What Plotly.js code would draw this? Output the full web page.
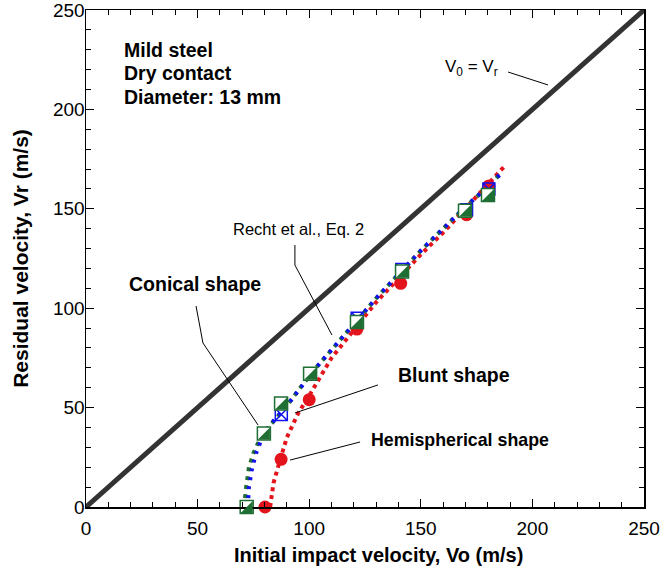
<!DOCTYPE html>
<html>
<head>
<meta charset="utf-8">
<script src="https://cdn.plot.ly/plotly-3.0.1.min.js"></script>
<style>html,body{margin:0;padding:0;background:#fff;}#chart{width:660px;height:577px;}</style>
</head>
<body>
<div id="chart"></div>
<script>
// Reference line V0 = Vr
const refX = [0, 250];
const refY = [0, 250];

// Recht et al. Eq. 2 model curves
const conicalCurveX = [71, 71.5, 73, 75, 77, 80, 84, 90, 96, 103, 110, 120, 130, 140, 150, 160, 170, 180, 186];
const conicalCurveY = [0, 8, 20, 27, 32, 38, 43, 51, 60, 70, 79, 92, 105, 117, 129, 140, 151, 161, 168];
const bluntCurveX = [72.5, 73, 74.5, 76.5, 79, 83, 90, 96, 103, 110, 120, 130, 140, 150, 160, 170, 180, 187];
const bluntCurveY = [0, 10, 20, 28, 35, 42, 51, 60, 70, 79, 92, 105, 117, 129, 140, 151, 161, 169];
const hemiCurveX = [82.5, 83, 84, 86, 88, 90, 95, 100, 110, 120, 130, 140, 150, 160, 170, 180, 188];
const hemiCurveY = [0, 5, 12, 20, 27, 35, 47, 56, 75, 89, 103, 115, 127, 138, 150, 162, 172];

// Measured points
const conicalX = [72, 79.7, 87.4, 100.4, 121.4, 141.6, 169.8, 180.1];
const conicalY = [0, 37, 52, 67, 93, 118.5, 149, 157];
const bluntX = [87.5, 121.5, 141.5, 170.5, 180.5];
const bluntY = [46.5, 95, 119.5, 149.5, 160];
const hemiX = [80.2, 87.4, 100, 121.4, 141, 170.5, 180.5];
const hemiY = [0, 24, 54, 89.5, 112.5, 147, 161.5];

// Ticks
const tickVals = [0, 50, 100, 150, 200, 250];
const tickText = ['0', '50', '100', '150', '200', '250'];

const X_RANGE = [0, 250];
const Y_RANGE = [0, 250];

const GREEN = '#1f6e33';
const BLUE = '#1010f0';
const RED = '#e3141c';
const FONT = 'Liberation Sans, Arial, sans-serif';

const traces = [
  {x: refX, y: refY, mode: 'lines', line: {color: '#333333', width: 5}, hoverinfo: 'skip'},
  {x: hemiCurveX, y: hemiCurveY, mode: 'lines', line: {color: RED, width: 4, dash: '4px,4px'}},
  {x: conicalCurveX, y: conicalCurveY, mode: 'lines', line: {color: GREEN, width: 4, dash: '4px,5px'}},
  {x: bluntCurveX, y: bluntCurveY, mode: 'lines', line: {color: BLUE, width: 4, dash: '3px,6px'}},
  {x: hemiX, y: hemiY, mode: 'markers', cliponaxis: false,
   marker: {symbol: 'circle', size: 13, color: RED, line: {width: 0}}},
  {x: bluntX, y: bluntY, mode: 'markers', cliponaxis: false,
   marker: {symbol: 'square-x-open', size: 12, color: BLUE, line: {width: 1.5, color: BLUE}}},
  {x: conicalX, y: conicalY, mode: 'markers', cliponaxis: false,
   marker: {symbol: 'square', size: 13, color: 'white', line: {width: 1.5, color: GREEN}}}
];

// Half-filled squares: lower-right triangle in pixel units, anchored (in paper units,
// converted through the axis ranges) on each conical point so they are not clipped
const shapes = conicalX.map((x, i) => ({
  type: 'path', xref: 'paper', yref: 'paper', xsizemode: 'pixel', ysizemode: 'pixel',
  xanchor: (x - X_RANGE[0]) / (X_RANGE[1] - X_RANGE[0]),
  yanchor: (conicalY[i] - Y_RANGE[0]) / (Y_RANGE[1] - Y_RANGE[0]),
  path: 'M-6,-6 L6,-6 L6,6 Z', fillcolor: GREEN, line: {width: 0}, layer: 'above'
}));

// Leader lines (in data units)
function leader(pts) {
  return {type: 'path', xref: 'x', yref: 'y', layer: 'above',
    path: 'M' + pts.map(p => p[0] + ',' + p[1]).join(' L'),
    line: {color: 'black', width: 1}};
}
shapes.push(leader([[189.1, 218.8], [207, 212.3]]));
shapes.push(leader([[93.6, 131.8], [93.6, 121.7], [110.2, 86.5]]));
shapes.push(leader([[49.3, 101.1], [52.4, 82.5], [77.1, 41.2]]));
shapes.push(leader([[130.8, 61.4], [93.6, 47.3]]));
shapes.push(leader([[122.8, 32.7], [91.4, 23.6]]));

function note(text, x, y, size, bold) {
  return {text: bold ? '<b>' + text + '</b>' : text, x: x, y: y, xref: 'x', yref: 'y',
    xanchor: 'left', yanchor: 'middle', showarrow: false,
    font: {family: FONT, size: size, color: 'black'}};
}

const annotations = [
  note('Mild steel', 16.2, 230.0, 19.5, true),
  note('Dry contact', 16.2, 218.4, 19.5, true),
  note('Diameter: 13 mm', 16.2, 206.0, 19.5, true),
  note('V<sub>0</sub> = V<sub>r</sub>', 160.0, 220.8, 17, false),
  note('Recht et al., Eq. 2', 64.8, 139.8, 16.5, false),
  note('Conical shape', 18.2, 112.2, 19.5, true),
  note('Blunt shape', 139.0, 66.4, 19.5, true),
  note('Hemispherical shape', 126.8, 33.6, 17.8, true),
  // x-axis title (slightly right of centre, as in the reference)
  {text: '<b>Initial impact velocity, Vo (m/s)</b>', xref: 'paper', yref: 'paper',
   x: 0.525, y: -0.097, xanchor: 'center', yanchor: 'middle', showarrow: false,
   font: {family: FONT, size: 20, color: 'black'}}
];

const axisCommon = {
  range: [0, 250], showgrid: false, zeroline: false, showline: true, linecolor: 'black', linewidth: 1.5,
  mirror: 'allticks', ticks: 'inside', ticklen: 8, tickwidth: 1.2, tickcolor: 'black',
  tickvals: tickVals, ticktext: tickText, ticklabeloverflow: 'allow',
  tickfont: {family: FONT, size: 19, color: 'black'},
  minor: {dtick: 10, tick0: 0, ticks: 'inside', ticklen: 5, tickwidth: 1, tickcolor: 'black', showgrid: false}
};

const layout = {
  width: 660, height: 577,
  margin: {l: 86, r: 16, t: 10, b: 70},
  paper_bgcolor: 'white', plot_bgcolor: 'white',
  showlegend: false,
  xaxis: Object.assign({}, axisCommon, {
    range: X_RANGE, ticklabelstandoff: 4
  }),
  yaxis: Object.assign({}, axisCommon, {
    range: Y_RANGE, ticklabelstandoff: -4,
    title: {text: '<b>Residual velocity, Vr (m/s)</b>', font: {family: FONT, size: 21, color: 'black'}, standoff: 18}
  }),
  shapes: shapes,
  annotations: annotations
};

Plotly.newPlot('chart', traces, layout, {staticPlot: true, displayModeBar: false});
</script>
</body>
</html>
